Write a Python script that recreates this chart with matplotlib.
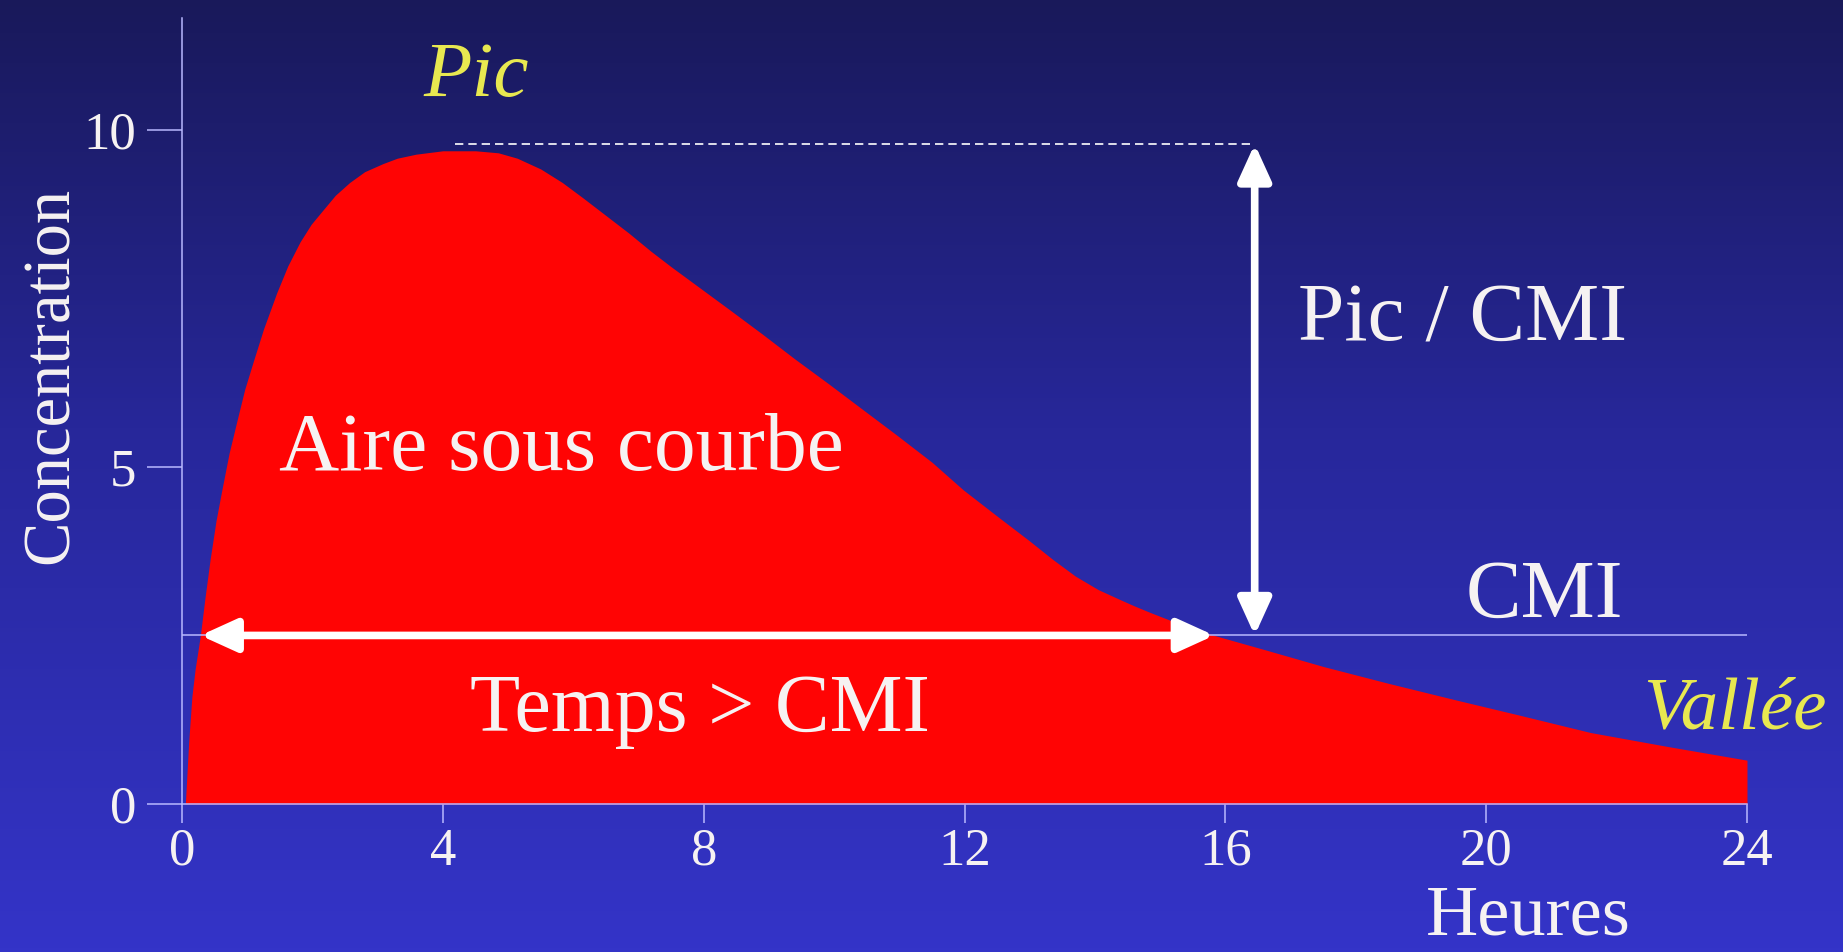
import numpy as np
import matplotlib.pyplot as plt
from matplotlib.colors import LinearSegmentedColormap
from matplotlib.patches import FancyArrowPatch

plt.rcParams['font.family'] = ['Liberation Serif', 'DejaVu Serif']

# courbe de concentration (heures / concentration)
heures = [0.05, 0.1, 0.15, 0.2, 0.28, 0.35, 0.43, 0.52, 0.61, 0.72, 0.84, 0.96,
          1.09, 1.25, 1.45, 1.62, 1.81, 1.98, 2.16, 2.35, 2.57, 2.8, 3.08, 3.3,
          3.59, 4.0, 4.5, 4.85, 5.14, 5.5, 5.83, 6.15, 6.5, 6.85, 7.19, 7.5,
          7.88, 8.4, 8.9, 9.4, 9.92, 10.4, 10.95, 11.5, 11.98, 12.5, 13.0, 13.35,
          13.7, 14.05, 14.39, 14.6, 14.85, 15.3, 15.83, 16.6, 17.5, 18.5, 19.55,
          20.5, 21.6, 22.8, 24.0]
concentration = [0.0, 0.9, 1.59, 2.0, 2.5, 3.05, 3.63, 4.2, 4.66, 5.2, 5.68, 6.15,
                 6.56, 7.05, 7.58, 7.98, 8.34, 8.6, 8.81, 9.03, 9.22, 9.38, 9.5, 9.58,
                 9.64, 9.69, 9.69, 9.66, 9.58, 9.42, 9.22, 8.99, 8.73, 8.47, 8.2, 7.97,
                 7.7, 7.33, 6.97, 6.6, 6.23, 5.88, 5.48, 5.07, 4.66, 4.27, 3.9, 3.63,
                 3.38, 3.18, 3.03, 2.94, 2.84, 2.67, 2.5, 2.29, 2.04, 1.79, 1.54,
                 1.32, 1.06, 0.85, 0.65]

cmi = 2.5
pic = 9.79
t_pic_debut = 4.19
t_fleche_pic = 16.45
t_debut_cmi = 0.28
t_fin_cmi = 15.83

xticks = [0, 4, 8, 12, 16, 20, 24]
yticks = [0, 5, 10]

blanc = '#f6f2f2'
jaune = '#e8e850'
axe = '#b8b8ff'

fig = plt.figure(figsize=(18.43, 9.52), dpi=100)

# fond en dégradé bleu
fond = fig.add_axes([0, 0, 1, 1], zorder=0)
degrade = LinearSegmentedColormap.from_list(
    'fond', [(0.0, '#19195a'), (0.45, '#27279a'), (1.0, '#3434c8')])
fond.imshow(np.linspace(0, 1, 256).reshape(-1, 1), aspect='auto', cmap=degrade,
            extent=[0, 1, 0, 1])
fond.axis('off')

ax = fig.add_axes([0.0988, 0.1555, 0.8491, 0.8256], zorder=1)
ax.set_facecolor('none')
ax.set_xlim(0, 24)
ax.set_ylim(0, 11.66)

ax.fill_between(heures, concentration, color='#ff0404', lw=0, zorder=2)

# ligne CMI et niveau du pic
ax.plot([0, 24], [cmi, cmi], color=axe, lw=1.1, zorder=3)
ax.plot([t_pic_debut, t_fleche_pic], [pic, pic], color='white', lw=1.2,
        dashes=(5, 3), zorder=3)

style = '<|-|>,head_length=22,head_width=10'
ax.add_patch(FancyArrowPatch((t_debut_cmi, cmi), (t_fin_cmi, cmi), arrowstyle=style,
                             mutation_scale=1, lw=5.5, color='white',
                             shrinkA=0, shrinkB=0, zorder=4))
ax.add_patch(FancyArrowPatch((t_fleche_pic, pic), (t_fleche_pic, cmi), arrowstyle=style,
                             mutation_scale=1, lw=5.5, color='white',
                             shrinkA=0, shrinkB=0, zorder=4))

# axes
for s in ['top', 'right']:
    ax.spines[s].set_visible(False)
for s in ['left', 'bottom']:
    ax.spines[s].set_color(axe)
    ax.spines[s].set_linewidth(1.1)
ax.set_xticks(xticks)
ax.set_yticks(yticks)
ax.tick_params(axis='both', colors=axe, labelcolor=blanc, labelsize=38, width=1.1)
ax.tick_params(axis='y', length=25, pad=8)
ax.tick_params(axis='x', length=14, pad=3)

# textes
ax.text(1.48, 4.96, 'Aire sous courbe', color=blanc, fontsize=60, zorder=5)
ax.text(4.42, 1.08, 'Temps > CMI', color=blanc, fontsize=59, zorder=5)
ax.text(17.12, 6.87, 'Pic / CMI', color=blanc, fontsize=60, zorder=5)
ax.text(19.68, 2.78, 'CMI', color=blanc, fontsize=60, zorder=5)
ax.text(3.7, 10.5, 'Pic', color=jaune, fontsize=57, style='italic', zorder=5)
ax.text(22.4, 1.12, 'Vallée', color=jaune, fontsize=54, style='italic', zorder=5,
        clip_on=False)
ax.text(19.07, -1.93, 'Heures', color=blanc, fontsize=52, clip_on=False)
ax.text(-2.0, 6.35, 'Concentration', color=blanc, fontsize=48, rotation=90,
        ha='center', va='center', clip_on=False)

fig.savefig('out.png', dpi=100)
